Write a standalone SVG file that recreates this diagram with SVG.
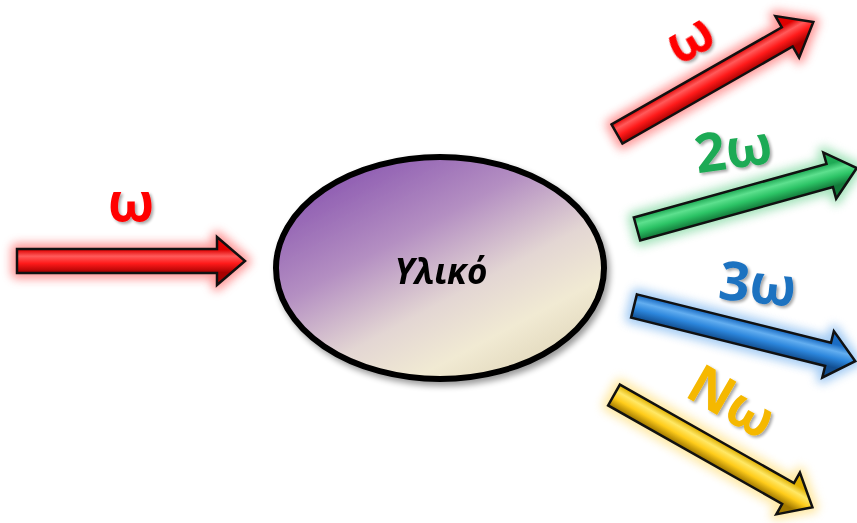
<svg xmlns="http://www.w3.org/2000/svg" width="857" height="523" viewBox="0 0 857 523">
<defs>
  <linearGradient id="gEll" x1="0.1" y1="0.05" x2="0.85" y2="1">
    <stop offset="0" stop-color="#8550ae"/>
    <stop offset="0.35" stop-color="#b48fc2"/>
    <stop offset="0.6" stop-color="#e3d6d3"/>
    <stop offset="0.78" stop-color="#f1ead3"/>
    <stop offset="1" stop-color="#dcd2b4"/>
  </linearGradient>
  <linearGradient id="gRed" x1="0" y1="0" x2="0" y2="1">
    <stop offset="0.26" stop-color="#e00000"/>
    <stop offset="0.4" stop-color="#ff5a5a"/>
    <stop offset="0.55" stop-color="#ff1a1a"/>
    <stop offset="0.74" stop-color="#a80000"/>
  </linearGradient>
  <linearGradient id="gGreen" x1="0" y1="0" x2="0" y2="1">
    <stop offset="0.26" stop-color="#1faa55"/>
    <stop offset="0.4" stop-color="#5de08e"/>
    <stop offset="0.55" stop-color="#2cc466"/>
    <stop offset="0.74" stop-color="#137a3a"/>
  </linearGradient>
  <linearGradient id="gBlue" x1="0" y1="0" x2="0" y2="1">
    <stop offset="0.26" stop-color="#1a6cc4"/>
    <stop offset="0.4" stop-color="#63aef0"/>
    <stop offset="0.55" stop-color="#2c86dc"/>
    <stop offset="0.74" stop-color="#124e90"/>
  </linearGradient>
  <linearGradient id="gYellow" x1="0" y1="0" x2="0" y2="1">
    <stop offset="0.26" stop-color="#e0b000"/>
    <stop offset="0.4" stop-color="#ffe866"/>
    <stop offset="0.55" stop-color="#ffcc1a"/>
    <stop offset="0.74" stop-color="#a07800"/>
  </linearGradient>
  <filter id="glow" x="-20%" y="-80%" width="140%" height="260%">
    <feGaussianBlur stdDeviation="5"/>
  </filter>
  <filter id="shadow" x="-10%" y="-10%" width="125%" height="130%">
    <feGaussianBlur in="SourceAlpha" stdDeviation="3"/>
    <feOffset dx="3" dy="4" result="b"/>
    <feComponentTransfer><feFuncA type="linear" slope="0.4"/></feComponentTransfer>
    <feMerge><feMergeNode/><feMergeNode in="SourceGraphic"/></feMerge>
  </filter>
  <filter id="tshadow" x="-20%" y="-20%" width="150%" height="150%">
    <feGaussianBlur in="SourceAlpha" stdDeviation="1.5"/>
    <feOffset dx="2" dy="2"/>
    <feComponentTransfer><feFuncA type="linear" slope="0.35"/></feComponentTransfer>
    <feMerge><feMergeNode/><feMergeNode in="SourceGraphic"/></feMerge>
  </filter>
  <path id="arr228" d="M0,-12 L200,-12 L200,-24 L228,0 L200,24 L200,12 L0,12 Z"/>
  <path id="arr226" d="M0,-11 L196,-11 L196,-24 L226,0 L196,24 L196,11 L0,11 Z"/>
</defs>
<style>
  .lbl { font-family: "Open Sans", "Noto Sans", "DejaVu Sans", sans-serif; font-weight: 700; font-size: 54px; text-anchor: middle; dominant-baseline: central; }
  .body { stroke: #111; stroke-width: 2.5; stroke-linejoin: miter; }
  .halo { stroke-width: 12; stroke-linejoin: round; opacity: 0.7; }
</style>

<g id="material" filter="url(#shadow)">
  <ellipse cx="440" cy="268" rx="164" ry="111" fill="url(#gEll)" stroke="#000" stroke-width="6"/>
  <text x="441" y="270" font-family="'Open Sans', 'Noto Sans', sans-serif" font-weight="700" font-style="italic" font-size="35" text-anchor="middle" dominant-baseline="central" fill="#000">Υλικό</text>
</g>

<g id="connectors">
  <g id="arrow-in" transform="translate(17,261)">
    <use href="#arr228" class="halo" fill="#ff6060" stroke="#ff7070" filter="url(#glow)"/>
    <use href="#arr228" class="body" fill="url(#gRed)"/>
  </g>
  <g id="arrow-w" transform="translate(617,134) rotate(-29.7)">
    <use href="#arr226" class="halo" fill="#ff6060" stroke="#ff7070" filter="url(#glow)"/>
    <use href="#arr226" class="body" fill="url(#gRed)"/>
  </g>
  <g id="arrow-2w" transform="translate(637,229) rotate(-15.5)">
    <use href="#arr228" class="halo" fill="#70d090" stroke="#80d8a0" filter="url(#glow)"/>
    <use href="#arr228" class="body" fill="url(#gGreen)"/>
  </g>
  <g id="arrow-3w" transform="translate(634,306) rotate(14)">
    <use href="#arr228" class="halo" fill="#70a8e8" stroke="#80b8f0" filter="url(#glow)"/>
    <use href="#arr228" class="body" fill="url(#gBlue)"/>
  </g>
  <g id="arrow-Nw" transform="translate(614,395) rotate(29.5)">
    <use href="#arr228" class="halo" fill="#ffe070" stroke="#ffe080" filter="url(#glow)"/>
    <use href="#arr228" class="body" fill="url(#gYellow)"/>
  </g>
</g>

<g id="labels" filter="url(#tshadow)">
  <text id="lbl-in" class="lbl" x="131" y="200" fill="#ff0000">ω</text>
  <text id="lbl-w" class="lbl" x="688" y="36" fill="#ff0000" transform="rotate(-30 688 36)">ω</text>
  <text id="lbl-2w" class="lbl" x="733" y="147" fill="#1faa55" transform="rotate(-8 733 147)">2ω</text>
  <text id="lbl-3w" class="lbl" x="758" y="282" fill="#1e72c0" transform="rotate(6 758 282)">3ω</text>
  <text id="lbl-Nw" class="lbl" x="733" y="400" fill="#f5b800" transform="rotate(30 733 400)">Nω</text>
</g>
</svg>
